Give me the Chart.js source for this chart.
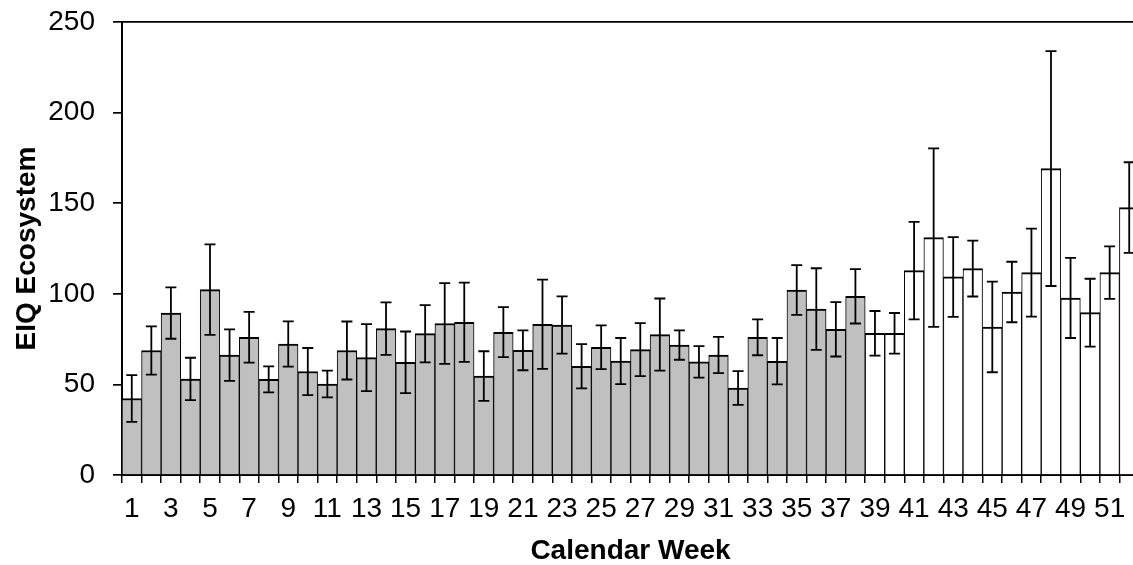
<!DOCTYPE html>
<html>
<head>
<meta charset="utf-8">
<title>EIQ Ecosystem by Calendar Week</title>
<script src="https://cdn.jsdelivr.net/npm/chart.js@4.4.1/dist/chart.umd.min.js"></script>
<style>
  html, body { margin: 0; padding: 0; background: #fff; overflow: hidden; width: 1133px; height: 565px; }
  canvas { display: block; }
</style>
</head>
<body>
<canvas id="chart" width="1139" height="565"></canvas>
<script>
// Calendar weeks 1..52
const weeks = [
  1, 2, 3, 4, 5, 6, 7, 8, 9, 10, 11, 12, 13,
  14, 15, 16, 17, 18, 19, 20, 21, 22, 23, 24, 25, 26,
  27, 28, 29, 30, 31, 32, 33, 34, 35, 36, 37, 38, 39,
  40, 41, 42, 43, 44, 45, 46, 47, 48, 49, 50, 51, 52
];

// Mean EIQ Ecosystem per week
const eiqMean = [
  42.2, 68.7, 89.4, 53.0, 102.3, 66.2, 76.0, 52.8, 72.3, 57.1, 50.2, 68.7, 64.8,
  80.8, 62.2, 78.0, 83.6, 84.3, 54.6, 78.8, 68.8, 83.2, 82.8, 60.0, 70.5, 62.9,
  69.2, 77.5, 71.7, 62.4, 66.2, 48.0, 76.0, 62.8, 102.1, 91.6, 80.4, 98.6, 78.2,
  78.2, 112.8, 131.0, 109.3, 113.9, 81.7, 101.0, 111.7, 169.1, 97.7, 89.6, 111.7, 147.6
];

// Error bar half-widths (+/-)
const eiqError = [
  12.9, 13.3, 14.2, 11.7, 25.0, 14.2, 14.0, 7.2, 12.5, 13.0, 7.4, 16.0, 18.5,
  14.5, 17.0, 15.8, 22.3, 21.9, 13.7, 13.8, 11.0, 24.6, 15.8, 12.2, 12.1, 12.7,
  14.6, 19.9, 8.1, 8.7, 10.0, 9.3, 9.9, 12.8, 13.7, 22.5, 15.0, 15.0, 12.3,
  11.2, 26.9, 49.3, 22.0, 15.4, 25.0, 16.7, 24.3, 64.8, 22.1, 18.7, 14.5, 25.0
];

// Y axis tick values
const yTicks = [0, 50, 100, 150, 200, 250];

// Weeks up to this one are drawn grey, later ones white
const lastGreyWeek = 38;

const FONT = '"Liberation Sans", Arial, Helvetica, sans-serif';

const errorBars = {
  id: 'errorBars',
  afterDatasetsDraw(chart) {
    const meta = chart.getDatasetMeta(0);
    const y = chart.scales.y;
    const ctx = chart.ctx;
    const cap = 5.5;
    ctx.save();
    ctx.strokeStyle = '#000';
    ctx.lineWidth = 1.8;
    meta.data.forEach((bar, i) => {
      const m = eiqMean[i], e = eiqError[i];
      const yt = y.getPixelForValue(m + e);
      const yb = y.getPixelForValue(m - e);
      const x = bar.x;
      ctx.beginPath();
      ctx.moveTo(x, yt); ctx.lineTo(x, yb);
      ctx.moveTo(x - cap, yt); ctx.lineTo(x + cap, yt);
      ctx.moveTo(x - cap, yb); ctx.lineTo(x + cap, yb);
      ctx.stroke();
    });
    ctx.restore();
  }
};

new Chart(document.getElementById('chart'), {
  type: 'bar',
  data: {
    labels: weeks.map(String),
    datasets: [{
      data: eiqMean,
      backgroundColor: (c) => (weeks[c.dataIndex] <= lastGreyWeek ? '#c0c0c0' : '#ffffff'),
      borderColor: '#000',
      borderWidth: { top: 2, left: 1, right: 1, bottom: 0 },
      borderSkipped: false,
      categoryPercentage: 1.0,
      barPercentage: 1.0
    }]
  },
  options: {
    responsive: false,
    animation: false,
    devicePixelRatio: 1,
    layout: { autoPadding: false, padding: { top: 22, right: 0, bottom: 0, left: 0 } },
    plugins: { legend: { display: false }, tooltip: { enabled: false } },
    scales: {
      x: {
        offset: true,
        grid: {
          offset: true,
          drawOnChartArea: false,
          drawTicks: true,
          tickLength: 8,
          tickColor: '#000',
          lineWidth: 1.5
        },
        border: { display: true, color: '#000', width: 2 },
        ticks: {
          autoSkip: false,
          maxRotation: 0,
          minRotation: 0,
          padding: 9,
          color: '#000',
          font: { family: FONT, size: 28 },
          callback: (v, i) => (i % 2 === 0 ? weeks[i] : '')
        },
        title: {
          display: true,
          text: 'Calendar Week',
          color: '#000',
          font: { family: FONT, size: 28, weight: 'bold', lineHeight: 1 },
          padding: { top: 0, bottom: 0 }
        },
        afterFit: (s) => { s.height = 90; s.paddingLeft = 0; s.paddingRight = 0; }
      },
      y: {
        min: 0,
        max: 250,
        afterBuildTicks: (s) => { s.ticks = yTicks.map(v => ({ value: v })); },
        grid: {
          drawOnChartArea: true,
          drawTicks: true,
          tickLength: 9,
          tickColor: '#000',
          lineWidth: 1.7,
          color: (c) => (c.tick && c.tick.value === 250 ? '#000' : 'rgba(0,0,0,0)')
        },
        border: { display: true, color: '#000', width: 2 },
        ticks: {
          padding: 18,
          color: '#000',
          font: { family: FONT, size: 28 }
        },
        title: {
          display: true,
          text: 'EIQ Ecosystem',
          color: '#000',
          font: { family: FONT, size: 28, weight: 'bold' },
          padding: { top: 10, bottom: 0 }
        },
        afterFit: (s) => { s.width = 122; s.paddingTop = 0; s.paddingBottom = 0; }
      }
    }
  },
  plugins: [errorBars]
});
</script>
</body>
</html>
